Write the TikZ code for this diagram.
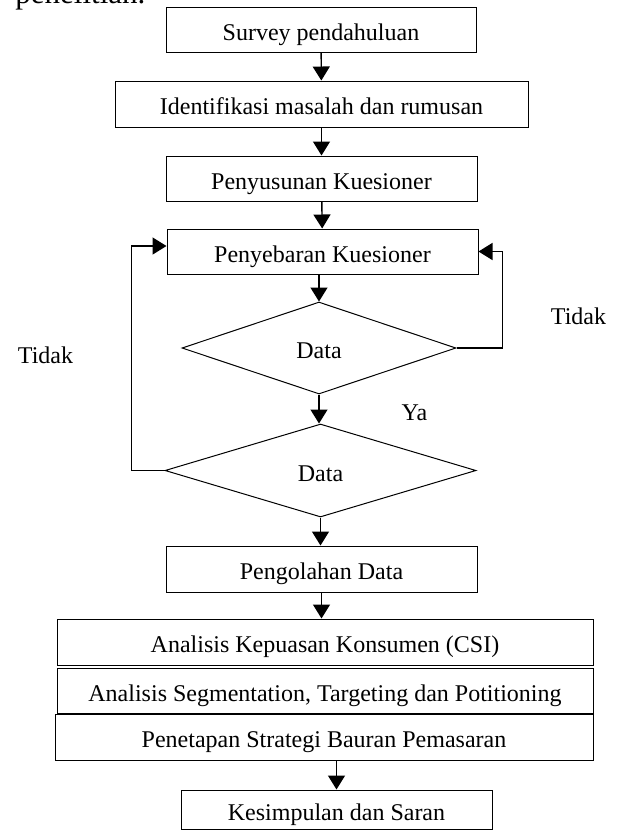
\documentclass[tikz,border=0pt]{standalone}
\usepackage{fontspec}
\setmainfont{Liberation Serif}
\usetikzlibrary{arrows.meta,shapes.geometric}

\tikzset{
  kotak/.style={draw, line width=0.5pt, inner sep=0pt, minimum height=22.5pt,
    text height=12pt, text depth=1.5pt, font=\fontsize{12}{14}\selectfont},
  keputusan/.style={draw, diamond, line width=0.5pt, inner sep=0pt,
    text height=12pt, text depth=1.5pt, font=\fontsize{12}{14}\selectfont},
  panah/.style={line width=0.7pt, -{Triangle[length=7pt,width=8.5pt]}},
  ket/.style={font=\fontsize{12}{14}\selectfont}
}

\begin{document}
\begin{tikzpicture}[x=0.5pt,y=-0.5pt]
      \useasboundingbox (0,0) rectangle (618,832);
      \node[anchor=base west, inner sep=0pt, font=\fontsize{15.5}{18}\selectfont] (judul) at (15,3) {penelitian.};
      \node[kotak, minimum width=155pt] (b1) at (321,29.5) {Survey pendahuluan};
      \node[kotak, minimum width=206.5pt, minimum height=23pt] (b2) at (321.5,104) {Identifikasi masalah dan rumusan};
      \node[kotak, minimum width=155.5pt] (b3) at (321.5,178.5) {Penyusunan Kuesioner};
      \node[kotak, minimum width=155.5pt] (b4) at (322.5,251.5) {Penyebaran Kuesioner};
      \node[keputusan, minimum width=137pt, minimum height=46pt] (d1) at (319,348) {Data};
      \node[keputusan, minimum width=155.5pt, minimum height=46.5pt] (d2) at (320.5,470.5) {Data};
      \node[kotak, minimum width=155.5pt, minimum height=23pt] (b5) at (321.5,569) {Pengolahan Data};
      \node[kotak, minimum width=268pt, minimum height=23pt] (b6) at (325,642) {Analisis Kepuasan Konsumen (CSI)};
      \node[kotak, minimum width=268pt] (b7) at (325,690.5) {Analisis Segmentation, Targeting dan Potitioning};
      \node[kotak, minimum width=269pt, minimum height=23pt] (b8) at (324,737) {Penetapan Strategi Bauran Pemasaran};
      \node[kotak, minimum width=155.5pt, minimum height=19.5pt] (b9) at (336.5,809.5) {Kesimpulan dan Saran};
      \node[ket] (tdk1) at (45.5,355) {Tidak};
      \node[ket] (tdk2) at (578.5,316) {Tidak};
      \node[ket] (ya) at (414.5,413) {Ya};
      \draw[panah] (b1) -- (b2);
      \draw[panah] (b2) -- (b3);
      \draw[panah] (b3) -- (b4);
      \draw[panah] (b4.south -| d1.north) -- (d1.north);
      \draw[panah] (d1.south) -- (d1.south |- d2.north);
      \draw[panah] (d1.east) -- ++(46,0) |- (b4.east);
      \draw[panah] (d2.west) -- ++(-33,0) |- ([yshift=2.75pt]b4.west);
      \draw[panah] (d2.south) -- (d2.south |- b5.north);
      \draw[panah] (b5.south) -- (b5.south |- b6.north);
      \draw[panah] (b9.north |- b8.south) -- (b9.north);
    \end{tikzpicture}
\end{document}
